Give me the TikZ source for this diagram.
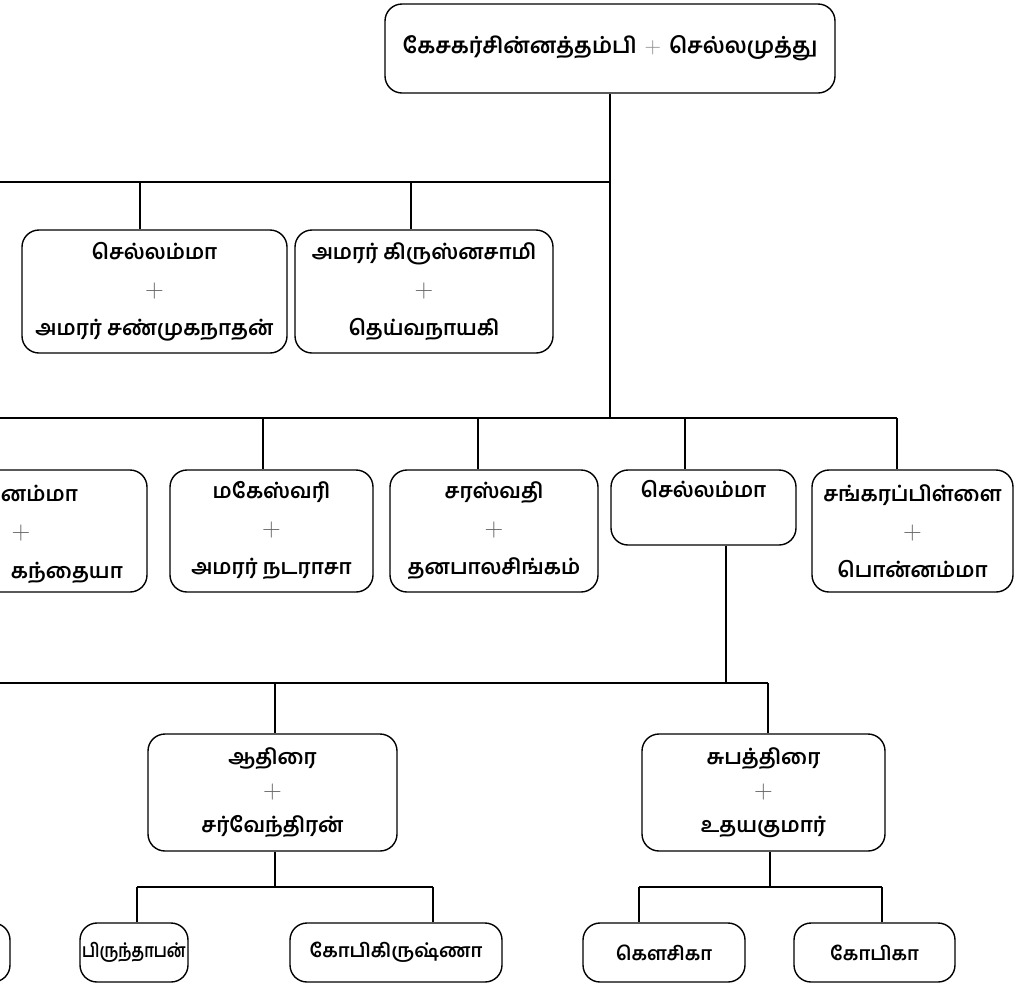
\documentclass[tikz,border=0pt]{standalone}
\usepackage{fontspec}
\newfontfamily\tam[Script=Tamil]{Hind Madurai}
\newcommand\pls{\textcolor{black!60}{\scalebox{1.25}{$+$}}}
\begin{document}
\begin{tikzpicture}[x=1pt,y=-1pt,
  tfont/.style={font=\tam\bfseries\fontsize{21}{#1}\selectfont},
  box/.style={draw, line width=1.4pt, rounded corners=17pt, inner sep=0pt, align=center, tfont=38},
  leaf/.style={box, font=\tam\bfseries\fontsize{19}{30}\selectfont},
  link/.style={line width=1.3pt},
  frag/.style={inner sep=0pt, tfont=38}]
\useasboundingbox (0,0) rectangle (1024,986);
\fill[white] (0,0) rectangle (1024,986);
\clip (0,0) rectangle (1024,986);
% nodes
\node[box, font=\tam\bfseries\fontsize{22}{30}\selectfont, minimum width=450pt, minimum height=89pt] (top) at (610,48.5) {கேசகர்சின்னத்தம்பி\hspace{8pt}\textcolor{black!45}{\scalebox{1.1}{$+$}}\hspace{8pt}செல்லமுத்து};
\node[box, minimum width=265pt, minimum height=123pt] (n21) at (154.5,291.5) {செல்லம்மா\\ \pls\\ அமரர் சண்முகநாதன்};
\node[box, minimum width=258pt, minimum height=123pt] (n22) at (424,291.5) {அமரர் கிருஸ்னசாமி\\ \pls\\ தெய்வநாயகி};
\node[box, minimum width=252pt, minimum height=122pt] (n31) at (21,531) {};
\node[frag, anchor=east] (f31a) at (78,493) {னம்மா};
\node[frag] (f31b) at (21,533) {\pls};
\node[frag, anchor=east] (f31c) at (123,573) {கந்தையா};
\node[box, minimum width=203pt, minimum height=122pt] (n32) at (271.5,531) {மகேஸ்வரி\\ \pls\\ அமரர் நடராசா};
\node[box, minimum width=208pt, minimum height=122pt] (n33) at (494,531) {சரஸ்வதி\\ \pls\\ தனபாலசிங்கம்};
\node[box, minimum width=185pt, minimum height=75pt] (n34) at (703.5,507.5) {செல்லம்மா\\ \mbox{}};
\node[box, minimum width=201pt, minimum height=122pt] (n35) at (912.5,531) {சங்கரப்பிள்ளை\\ \pls\\ பொன்னம்மா};
\node[box, tfont=34, minimum width=249pt, minimum height=117pt] (n41) at (272.5,792.5) {ஆதிரை\\ \pls\\ சர்வேந்திரன்};
\node[box, tfont=34, minimum width=243pt, minimum height=117pt] (n42) at (763.5,792.5) {சுபத்திரை\\ \pls\\ உதயகுமார்};
\node[leaf, minimum width=110pt, minimum height=59pt] (n50) at (-45,952.5) {};
\node[leaf, minimum width=108pt, minimum height=59pt] (n51) at (134,952.5) {\scalebox{0.82}[1]{பிருந்தாபன்}};
\node[leaf, minimum width=212pt, minimum height=59pt] (n52) at (396,952.5) {கோபிகிருஷ்ணா};
\node[leaf, minimum width=162pt, minimum height=59pt] (n53) at (664,952.5) {கௌசிகா};
\node[leaf, minimum width=161pt, minimum height=59pt] (n54) at (874.5,952.5) {கோபிகா};
% junctions
\coordinate (b2) at (610,182);
\coordinate (L2) at (0,182);
\coordinate (d21) at (140,182);
\coordinate (d22) at (411,182);
\coordinate (b3) at (610,418);
\coordinate (L3) at (0,418);
\coordinate (d32) at (263,418);
\coordinate (d33) at (478,418);
\coordinate (d34) at (685,418);
\coordinate (d35) at (897,418);
\coordinate (u34) at (726,683);
\coordinate (L4) at (0,683);
\coordinate (d41) at (275,683);
\coordinate (d42) at (768,683);
\coordinate (u41) at (275,887);
\coordinate (d51) at (137,887);
\coordinate (d52) at (433,887);
\coordinate (u42) at (770,887);
\coordinate (d53) at (639,887);
\coordinate (d54) at (882,887);
% connectors
\draw[link] (top.south) -- (b3);
\draw[link] (L2) -- (b2);
\draw[link] (d21) -- (d21 |- n21.north);
\draw[link] (d22) -- (d22 |- n22.north);
\draw[link] (L3) -- (d35);
\draw[link] (d32) -- (d32 |- n32.north);
\draw[link] (d33) -- (d33 |- n33.north);
\draw[link] (d34) -- (d34 |- n34.north);
\draw[link] (d35) -- (d35 |- n35.north);
\draw[link] (u34 |- n34.south) -- (u34);
\draw[link] (L4) -- (d42);
\draw[link] (d41) -- (d41 |- n41.north);
\draw[link] (d42) -- (d42 |- n42.north);
\draw[link] (u41 |- n41.south) -- (u41);
\draw[link] (d51) -- (d52);
\draw[link] (d51) -- (d51 |- n51.north);
\draw[link] (d52) -- (d52 |- n52.north);
\draw[link] (u42 |- n42.south) -- (u42);
\draw[link] (d53) -- (d54);
\draw[link] (d53) -- (d53 |- n53.north);
\draw[link] (d54) -- (d54 |- n54.north);
\end{tikzpicture}
\end{document}
